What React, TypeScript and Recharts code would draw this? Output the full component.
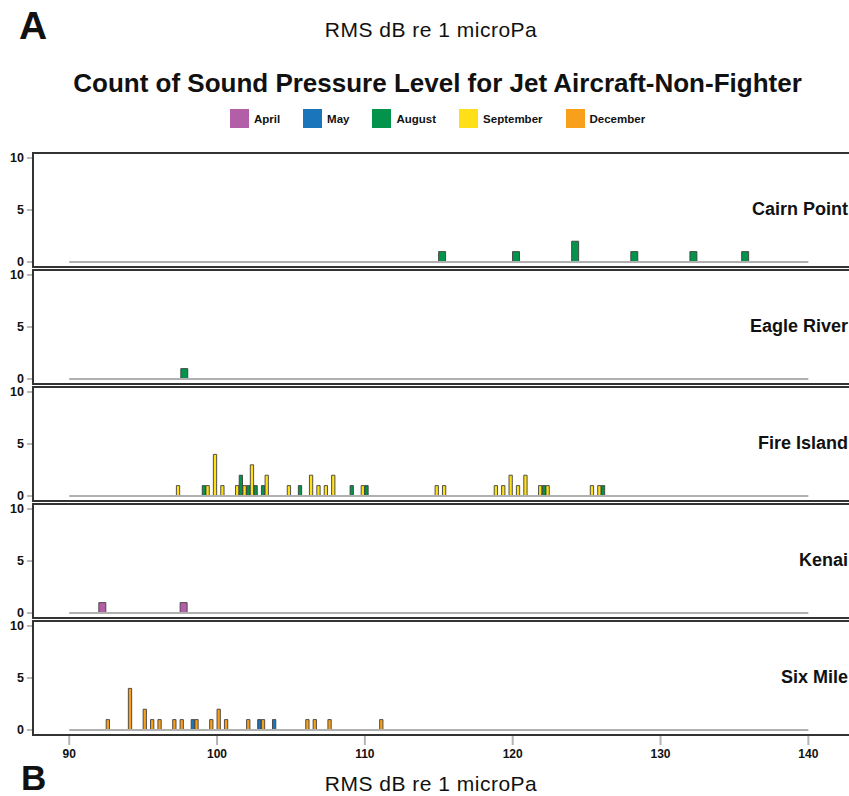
import { BarChart, Bar, XAxis, YAxis, Cell, ReferenceLine } from "recharts";

const months = ["April", "May", "August", "September", "December"];
const monthColors = ["#b35fa8", "#1b75bb", "#03934a", "#ffdf18", "#f8a01c"];
const sites = ["Cairn Point", "Eagle River", "Fire Island", "Kenai", "Six Mile"];
const xTicks = [90, 100, 110, 120, 130, 140];
const yTicks = [0, 5, 10];
const binWidth = 0.5;

// [bin centre in dB, count]
const cairnPointAugust = [[115.25, 1], [120.25, 1], [124.25, 2], [128.25, 1], [132.25, 1], [135.75, 1]];
const eagleRiverAugust = [[97.75, 1]];
const fireIslandAugust = [[99.25, 1], [101.75, 2], [102.25, 1], [102.75, 1], [103.25, 1], [105.75, 1], [109.25, 1], [110.25, 1], [122.25, 1], [126.25, 1]];
const fireIslandSeptember = [[97.25, 1], [99.25, 1], [99.75, 4], [100.25, 1], [101.25, 1], [101.75, 1], [102.25, 3], [103.25, 2], [104.75, 1], [106.25, 2], [106.75, 1], [107.25, 1], [107.75, 2], [109.75, 1], [114.75, 1], [115.25, 1], [118.75, 1], [119.25, 1], [119.75, 2], [120.25, 1], [120.75, 2], [121.75, 1], [122.25, 1], [125.25, 1], [125.75, 1]];
const kenaiApril = [[92.25, 1], [97.75, 1]];
const sixMileMay = [[98.5, 1], [103.0, 1], [104.0, 1]];
const sixMileDecember = [[92.5, 1], [94.0, 4], [95.0, 2], [95.5, 1], [96.0, 1], [97.0, 1], [97.5, 1], [98.5, 1], [99.5, 1], [100.0, 2], [100.5, 1], [102.0, 1], [103.0, 1], [106.0, 1], [106.5, 1], [107.5, 1], [111.0, 1]];

const panels = [
  { site: sites[0], series: [{ month: 2, bins: cairnPointAugust }] },
  { site: sites[1], series: [{ month: 2, bins: eagleRiverAugust }] },
  { site: sites[2], series: [{ month: 2, bins: fireIslandAugust }, { month: 3, bins: fireIslandSeptember }] },
  { site: sites[3], series: [{ month: 0, bins: kenaiApril }] },
  { site: sites[4], series: [{ month: 1, bins: sixMileMay }, { month: 4, bins: sixMileDecember }] },
];

const W = 849;
const Y_AXIS_W = 33;
const X_DOMAIN = [87.55, 142.75];
const PX_PER_DB = (W - Y_AXIS_W) / (X_DOMAIN[1] - X_DOMAIN[0]);
const FONT = "'Liberation Sans', Arial, Helvetica, sans-serif";

function Panel({ panel, top, last }) {
  const n = panel.series.length;
  // dodge the months side by side inside each bin
  const data = panel.series
    .flatMap((s, slot) =>
      s.bins.map(([c, count]) => ({
        x: c - binWidth / 2 + (slot + 0.5) * (binWidth / n),
        count,
        month: s.month,
      }))
    )
    .sort((a, b) => a.x - b.x);
  const barSize = (binWidth / n) * PX_PER_DB - 0.4;
  const height = last ? 146 : 117;

  return (
    <div style={{ position: "absolute", left: 0, top, width: W, height }}>
      <BarChart
        width={W}
        height={height}
        data={data}
        margin={{ top: 2, right: 0, left: 0, bottom: last ? 0 : 1 }}
      >
        <XAxis
          dataKey="x"
          type="number"
          domain={X_DOMAIN}
          ticks={xTicks}
          interval={0}
          allowDataOverflow
          hide={!last}
          height={30}
          axisLine={false}
          tick={{ fill: "#111", fontSize: 12, fontWeight: 700, fontFamily: FONT }}
          tickLine={{ stroke: "#b5b5b5", strokeWidth: 2 }}
          tickSize={10}
          tickMargin={4}
        />
        <YAxis
          type="number"
          domain={[-0.48, 10.48]}
          ticks={yTicks}
          interval={0}
          allowDataOverflow
          width={Y_AXIS_W}
          axisLine={false}
          tickLine={{ stroke: "#777" }}
          tickSize={6}
          tickMargin={3}
          tick={{ fill: "#111", fontSize: 12.5, fontWeight: 700, fontFamily: FONT }}
        />
        <ReferenceLine
          segment={[{ x: 90, y: 0 }, { x: 140, y: 0 }]}
          stroke="#b0b0b0"
          strokeWidth={2}
        />
        <Bar dataKey="count" barSize={barSize} isAnimationActive={false} stroke="#3f3f3f" strokeWidth={0.9}>
          {data.map((d, i) => (
            <Cell key={i} fill={monthColors[d.month]} />
          ))}
        </Bar>
      </BarChart>
      {/* panel frame, open on the right like the source figure */}
      <div
        style={{
          position: "absolute",
          left: 32,
          top: 1,
          width: W - 32,
          height: 116,
          boxSizing: "border-box",
          borderTop: "2px solid #333",
          borderLeft: "2px solid #333",
          borderBottom: "2px solid #333",
          pointerEvents: "none",
        }}
      />
      <div
        style={{
          position: "absolute",
          right: 1,
          top: 48,
          fontFamily: FONT,
          fontWeight: 700,
          fontSize: 18,
          color: "#111",
          whiteSpace: "nowrap",
        }}
      >
        {panel.site}
      </div>
    </div>
  );
}

export default function App() {
  return (
    <div
      style={{
        position: "absolute",
        left: 0,
        top: 0,
        width: W,
        height: 796,
        overflow: "hidden",
        background: "#fff",
        fontFamily: FONT,
        color: "#111",
      }}
    >
      <div style={{ position: "absolute", left: 19, top: 4, fontSize: 39, fontWeight: 700 }}>A</div>
      <div
        style={{ position: "absolute", left: 0, width: 862, top: 18, textAlign: "center", fontSize: 21, letterSpacing: 0.5 }}
      >
        RMS dB re 1 microPa
      </div>
      <div style={{ position: "absolute", left: 0, width: 875, top: 68, textAlign: "center", fontSize: 26, fontWeight: 700 }}>
        Count of Sound Pressure Level for Jet Aircraft-Non-Fighter
      </div>
      <div
        style={{
          position: "absolute",
          left: 0,
          width: 875,
          top: 109,
          display: "flex",
          justifyContent: "center",
          gap: 23,
          fontSize: 11.5,
          fontWeight: 700,
        }}
      >
        {months.map((m, i) => (
          <div key={m} style={{ display: "flex", alignItems: "center", gap: 5 }}>
            <div style={{ width: 19, height: 19, background: monthColors[i] }} />
            <span>{m}</span>
          </div>
        ))}
      </div>
      {panels.map((p, i) => (
        <Panel key={p.site} panel={p} top={151 + 117 * i} last={i === panels.length - 1} />
      ))}
      <div style={{ position: "absolute", left: 21, top: 763, fontSize: 35, lineHeight: "30px", fontWeight: 700 }}>B</div>
      <div
        style={{
          position: "absolute",
          left: 0,
          width: 862,
          top: 772,
          textAlign: "center",
          fontSize: 21,
          lineHeight: "23px",
          letterSpacing: 0.5,
        }}
      >
        RMS dB re 1 microPa
      </div>
    </div>
  );
}
